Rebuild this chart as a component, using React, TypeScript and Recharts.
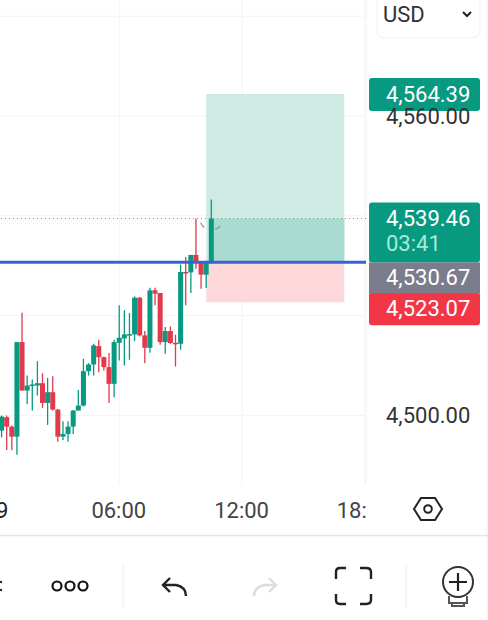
import {
  Bar,
  CartesianGrid,
  ComposedChart,
  ReferenceArea,
  ReferenceDot,
  ReferenceLine,
  XAxis,
  YAxis,
} from 'recharts'

// 15 minute bars, 0 = 06:00
const barIndex = [
  -23, -22, -21, -20, -19, -18, -17, -16, -15, -14, -13, -12, -11, -10, -9, -8, -7, -6, -5, -4, -3, -2, -1,
  0, 1, 2, 3, 4, 5, 6, 7, 8, 9, 10, 11, 12, 13, 14, 15, 16, 17, 18,
]
const opens = [
  4496.95, 4499.63, 4497.75, 4495.74, 4514.69, 4504.98, 4505.99, 4505.99, 4506.45, 4502.5, 4504.65, 4501.17,
  4495.74, 4496.28, 4497.75, 4500.97, 4501.97, 4508.86, 4510.2, 4513.88, 4511.67, 4509.67, 4506.32,
  4514.55, 4515.42, 4516.23, 4516.23, 4523.59, 4516.03, 4513.55, 4525.06, 4524.53, 4514.69, 4516.9, 4514.55,
  4514.35, 4528.74, 4528.67, 4532.16, 4530.68, 4528.21, 4530.68,
]
const closes = [
  4499.76, 4497.75, 4495.74, 4514.69, 4504.98, 4505.99, 4506.19, 4506.45, 4502.5, 4504.65, 4501.17, 4495.74,
  4496.28, 4497.75, 4500.97, 4501.97, 4508.86, 4510.2, 4514.02, 4511.67, 4509.67, 4506.32, 4514.69,
  4515.56, 4516.23, 4516.29, 4523.59, 4516.03, 4513.55, 4525.06, 4524.39, 4514.69, 4516.9, 4514.49, 4514.49,
  4528.74, 4528.67, 4532.16, 4530.68, 4528.21, 4530.68, 4539.46,
]
const highs = [
  4499.96, 4499.96, 4497.95, 4514.69, 4520.58, 4507.99, 4507.19, 4510.87, 4508.46, 4507.52, 4507.86, 4501.3,
  4498.82, 4498.82, 4501.1, 4505.11, 4511.34, 4510.47, 4514.35, 4515.15, 4511.81, 4512.48, 4515.15,
  4522.05, 4521.05, 4520.51, 4523.86, 4523.72, 4516.9, 4525.6, 4525.6, 4524.53, 4517.7, 4517.83, 4516.16,
  4530.22, 4531.76, 4532.16, 4539.45, 4530.75, 4531.0, 4543.27,
]
const lows = [
  4495.61, 4493.07, 4493.07, 4492.13, 4504.98, 4502.3, 4500.97, 4503.98, 4501.5, 4498.09, 4500.97, 4494.74,
  4495.08, 4494.74, 4496.28, 4500.97, 4501.77, 4507.99, 4507.99, 4508.66, 4509.0, 4502.5, 4503.64,
  4511.01, 4510.0, 4511.14, 4514.89, 4515.82, 4510.47, 4512.54, 4522.05, 4514.15, 4512.34, 4514.35, 4509.8,
  4513.15, 4522.05, 4524.53, 4529.41, 4525.4, 4525.53, 4530.42,
]

const priceTicks = [4500, 4520, 4540, 4560, 4580]
const labelledPrices = [4500, 4560]
const timeTicks = [-24, 0, 24, 48]
const timeLabels = ['29', '06:00', '12:00', '18:']

const targetPrice = 4564.39
const lastPrice = 4539.46
const entryPrice = 4530.67
const stopPrice = 4523.07
const stopAreaBottom = 4522.7
const positionStart = 17
const positionEnd = 44
const lastBar = 18
const countdown = '03:41'

const GREEN = '#089981'
const RED = '#e03a4c'
const FONT = 'Roboto, sans-serif'

const chartData = barIndex.map((bar, i) => ({
  bar,
  open: opens[i],
  close: closes[i],
  high: highs[i],
  low: lows[i],
  range: [lows[i], highs[i]],
}))

function Candle(props: any) {
  const { x, y, width, height, payload } = props
  const { open, close, high, low } = payload
  const color = close >= open ? GREEN : RED
  const perUnit = Math.abs(height) / (high - low || 1)
  const cx = x + width / 2
  const bodyTop = y + (high - Math.max(open, close)) * perUnit
  const bodyHeight = Math.max(Math.abs(open - close) * perUnit, 1.5)
  return (
    <g>
      <line x1={cx} x2={cx} y1={y} y2={y + Math.abs(height)} stroke={color} strokeWidth={1.3} />
      <rect x={cx - 2.5} y={bodyTop} width={5} height={bodyHeight} fill={color} />
    </g>
  )
}

function TimeTick(props: any) {
  const { x, y, payload } = props
  const label = timeLabels[timeTicks.indexOf(payload.value)]
  const clipped = label === '18:'
  return (
    <text
      x={clipped ? x + 2 : x - 0.5}
      y={y}
      textAnchor={clipped ? 'end' : 'middle'}
      dominantBaseline="central"
      fontFamily={FONT}
      fontSize={22}
      fill={label === '29' ? '#222' : '#444'}
    >
      {label}
    </text>
  )
}

function Badge(props: any) {
  const { viewBox, fill, text, top, bottom, sub, radius } = props
  const left = viewBox.x + viewBox.width + 3
  const cy = viewBox.y
  return (
    <g>
      <rect x={left} y={cy + top} width={111} height={bottom - top} rx={radius} fill={fill} />
      <text x={left + 17} y={cy + (sub ? 0.5 : (top + bottom) / 2)} dominantBaseline="central" fontFamily={FONT} fontSize={22} fill="#fff">
        {text}
      </text>
      {sub && (
        <text x={left + 17} y={cy + 25.5} dominantBaseline="central" fontFamily={FONT} fontSize={22} fill="#a8ead9">
          {sub}
        </text>
      )}
    </g>
  )
}

function Chrome() {
  return (
    <svg width={488} height={620} style={{ position: 'absolute', left: 0, top: 0 }}>
      <line x1={366} x2={366} y1={0} y2={484} stroke="#eef0f4" />
      <line x1={487} x2={487} y1={0} y2={620} stroke="#efefef" />
      <line x1={0} x2={488} y1={535.5} y2={535.5} stroke="#e6e6e6" strokeWidth={1.5} />
      <line x1={123} x2={123} y1={564} y2={608} stroke="#eeeeee" />
      <line x1={406} x2={406} y1={564} y2={608} stroke="#eeeeee" />

      <rect x={377} y={-10} width={103} height={48} rx={7} fill="#fff" stroke="#f0f0f0" />
      <text x={383} y={14} dominantBaseline="central" fontFamily={FONT} fontSize={22} fill="#333">USD</text>
      <path d="M463 12 L467 16 L471 12" fill="none" stroke="#222" strokeWidth={2} />

      <path d="M421 498 L435 498 L442 509 L435 520 L421 520 L414 509 Z" fill="none" stroke="#222" strokeWidth={2} />
      <circle cx={428} cy={509} r={3.8} fill="none" stroke="#222" strokeWidth={2} />

      <circle cx={1} cy={582} r={1.2} fill="#222" />
      <circle cx={1} cy={590} r={1.2} fill="#222" />
      <circle cx={57} cy={586} r={4.5} fill="none" stroke="#111" strokeWidth={2.2} />
      <circle cx={70} cy={586} r={4.5} fill="none" stroke="#111" strokeWidth={2.2} />
      <circle cx={83} cy={586} r={4.5} fill="none" stroke="#111" strokeWidth={2.2} />

      <path d="M170 578 L163 585 L170 592 M164 585 L176 585 Q186 587 186 596" fill="none" stroke="#222" strokeWidth={2.4} />
      <path d="M269 578 L276 585 L269 592 M275 585 L265 585 Q254 587 254 596" fill="none" stroke="#dddddd" strokeWidth={2.4} />

      <path
        d="M336 579 L336 572 Q336 568 340 568 L346 568 M360 568 L366 568 Q371 568 371 572 L371 579 M371 594 L371 600 Q371 604 366 604 L360 604 M346 604 L340 604 Q336 604 336 600 L336 594"
        fill="none"
        stroke="#222"
        strokeWidth={2.4}
      />

      <circle cx={458} cy={582} r={15} fill="none" stroke="#333" strokeWidth={2} />
      <path d="M458 573 L458 591 M449 582 L467 582" stroke="#222" strokeWidth={2.2} />
      <path d="M449 596 L449 603 L467 603 L467 596 M452 603 L452 606 L464 606 L464 603" fill="none" stroke="#555" strokeWidth={2} />
    </svg>
  )
}

export default function App() {
  return (
    <div style={{ position: 'absolute', left: 0, top: 0, width: 488, height: 620, overflow: 'hidden', background: '#fff' }}>
      <Chrome />
      <div style={{ position: 'absolute', left: -40, top: 0 }}>
        <ComposedChart
          width={528}
          height={620}
          data={chartData}
          margin={{ top: 0, right: 0, bottom: 0, left: 0 }}
        >
          <CartesianGrid stroke="#f3f4f7" syncWithTicks />
          <XAxis
            dataKey="bar"
            type="number"
            domain={[-31.14, 48.23]}
            ticks={timeTicks}
            interval={0}
            allowDataOverflow
            height={136}
            axisLine={false}
            tickLine={false}
            tickMargin={20}
            tick={<TimeTick />}
          />
          <YAxis
            type="number"
            orientation="right"
            width={122}
            domain={[4486.25, 4583.25]}
            ticks={priceTicks}
            interval={0}
            allowDataOverflow
            axisLine={false}
            tickLine={false}
            tickMargin={14}
            tick={{ fontFamily: FONT, fontSize: 22, fill: '#333', textAnchor: 'start' }}
            tickFormatter={(v: number) =>
              labelledPrices.includes(v) ? v.toLocaleString('en-US', { minimumFractionDigits: 2 }) : ''
            }
          />
          <ReferenceArea x1={positionStart} x2={positionEnd} y1={entryPrice} y2={targetPrice} fill="#cfeae3" fillOpacity={1} stroke="none" />
          <ReferenceArea x1={positionStart} x2={positionEnd} y1={stopAreaBottom} y2={entryPrice} fill="#fcd8db" fillOpacity={1} stroke="none" />
          <ReferenceArea x1={lastBar} x2={positionEnd} y1={entryPrice} y2={lastPrice} fill="#a9dcd0" fillOpacity={1} stroke="none" />
          <ReferenceLine y={lastPrice} stroke="#8a8f99" strokeWidth={1} strokeDasharray="1 3" />
          <ReferenceLine y={entryPrice} stroke="#3a63d2" strokeWidth={3} />
          <Bar dataKey="range" barSize={5} shape={<Candle />} isAnimationActive={false} />
          <ReferenceDot
            x={lastBar}
            y={lastPrice}
            r={11.5}
            fill="none"
            stroke="#9aa0a6"
            strokeWidth={1.5}
            strokeDasharray="0 8 6 11.5 6 40.5"
          />
          <ReferenceLine
            y={targetPrice}
            stroke="none"
            label={<Badge fill={GREEN} text="4,564.39" top={-16} bottom={17} radius={3} />}
          />
          <ReferenceLine
            y={lastPrice}
            stroke="none"
            label={<Badge fill={GREEN} text="4,539.46" sub={countdown} top={-16} bottom={44} radius={3} />}
          />
          <ReferenceLine
            y={stopPrice}
            stroke="none"
            label={<Badge fill="#f23645" text="4,523.07" top={-8} bottom={25} radius={3} />}
          />
          <ReferenceLine
            y={entryPrice}
            stroke="none"
            label={<Badge fill="#7c7d8c" text="4,530.67" top={0} bottom={31} radius={0} />}
          />
        </ComposedChart>
      </div>
    </div>
  )
}
